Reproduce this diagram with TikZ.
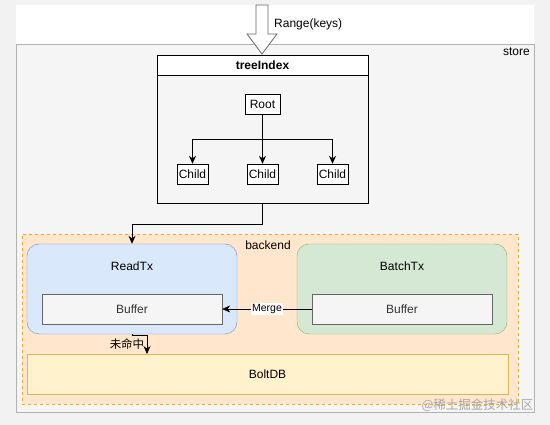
\documentclass[tikz,border=0pt]{standalone}
\usepackage{fontspec}
\setmainfont{Liberation Sans}
\newfontfamily\cjkfont{Noto Sans CJK SC}
\usetikzlibrary{arrows.meta, positioning}

\definecolor{bggray}{HTML}{F2F2F2}
\definecolor{storegray}{HTML}{F5F5F5}
\definecolor{backfill}{HTML}{FFE6CC}
\definecolor{backline}{HTML}{E8A92A}
\definecolor{readfill}{HTML}{DAE8FC}
\definecolor{readline}{HTML}{6C8EBF}
\definecolor{batchfill}{HTML}{D5E8D4}
\definecolor{batchline}{HTML}{82B366}
\definecolor{boltfill}{HTML}{FFF2CC}
\definecolor{boltline}{HTML}{D6B656}

\tikzset{
  txt/.style={font=\fontsize{12}{14}\selectfont, inner sep=1pt},
  treebox/.style={draw, fill=white, minimum height=20, inner sep=1pt, font=\fontsize{12}{14}\selectfont},
  txbox/.style={draw, rounded corners=12, minimum width=210, minimum height=90},
  bufbox/.style={draw=black!60, fill=storegray, minimum width=180, minimum height=30,
    font=\fontsize{12}{14}\selectfont, text=black!80},
  link/.style={-{Stealth[length=8pt, width=7pt]}, line width=0.8pt},
}

\begin{document}
\begin{tikzpicture}[x=1pt, y=-1pt]
\useasboundingbox[fill=bggray] (0,0) rectangle (550,425);
% white band above the store
\fill[white] (16,5) rectangle (534,44);

% store
\node[draw=black!30, fill=storegray, minimum width=518, minimum height=368,
  anchor=north west, inner sep=0pt] (store) at (16,44) {};
\node[txt, anchor=north east] (storelabel) at (531,47) {store};

% treeIndex
\node[draw, minimum width=211, minimum height=148, inner sep=0pt] (tree) at (262.5,129) {};
\node[treebox, minimum width=211, font=\fontsize{12}{14}\selectfont\bfseries] (treehead) at (262.5,65) {treeIndex};
\node[treebox, minimum width=35] (root) at (262.5,104) {Root};
\node[treebox, minimum width=31] (child1) at (192.5,174) {Child};
\node[treebox, minimum width=31] (child2) at (262.5,174) {Child};
\node[treebox, minimum width=31] (child3) at (332.5,174) {Child};
\coordinate (fork) at (262.5,139);
\draw (root) -- (fork);
\draw[link] (fork) -| (child1);
\draw[link] (fork) -- (child2);
\draw[link] (fork) -| (child3);

% request arrow
\draw[black!60, fill=white, line width=0.8pt] (256,5) -- (268,5) -- (268,34) -- (277,34)
  -- (262,54) -- (247,34) -- (256,34) -- cycle;
\node[txt, anchor=west] (range) at (273,24) {Range(keys)};

% backend
\node[draw=backline, dash pattern=on 3pt off 3pt, fill=backfill, minimum width=496, minimum height=170,
  anchor=north west, inner sep=0pt] (backend) at (22,234) {};
\node[txt] (backendlabel) at (268,245) {backend};

\node[txbox, draw=readline, fill=readfill] (readtx) at (132,289) {};
\node[txt] (readlabel) at (132,266) {ReadTx};
\node[bufbox] (rbuf) at (132,309) {Buffer};

\node[txbox, draw=batchline, fill=batchfill] (batchtx) at (402,289) {};
\node[txt] (batchlabel) at (402,266) {BatchTx};
\node[bufbox] (bbuf) at (402,309) {Buffer};

\node[draw=boltline, fill=boltfill, minimum width=481, minimum height=40,
  font=\fontsize{12}{14}\selectfont] (boltdb) at (267.5,374) {BoltDB};

% connectors
\draw[link] (tree.south) -- ++(0,21) -| (readtx.north);
\draw[link, line width=0.6pt] (bbuf.west) -- (rbuf.east)
  node[midway, fill=white, inner sep=1pt, font=\fontsize{10.5}{12}\selectfont] (merge) {Merge};
\coordinate (miss) at (147,354);
\draw[link] (readtx.south) -- ++(0,1.5) -| (miss);
\node[txt, font=\fontsize{11.5}{13}\cjkfont] (misslabel) at (127,344) {未命中};

% watermark
\node[font=\fontsize{12.5}{14}\cjkfont, text=black!35, anchor=east] (mark) at (537,405) {@稀土掘金技术社区};
\end{tikzpicture}
\end{document}
